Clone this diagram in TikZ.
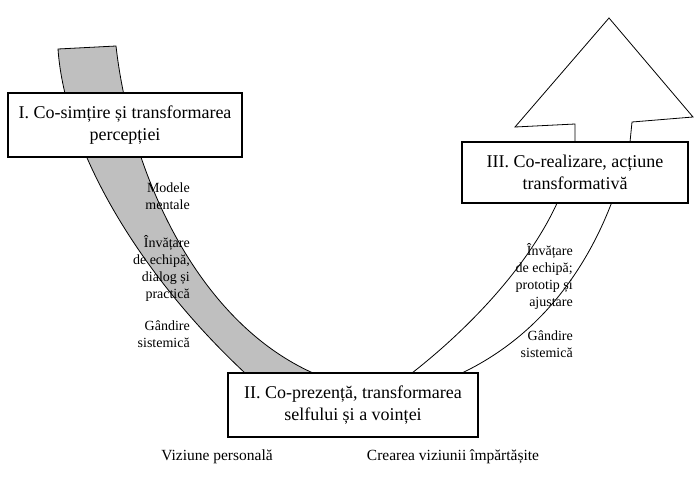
\documentclass[tikz,border=0pt]{standalone}
\usepackage{fontspec}
\setmainfont{Liberation Serif}
\usetikzlibrary{positioning}
\begin{document}
\begin{tikzpicture}[x=1pt, y=-1pt,
    stage/.style={draw, line width=1.2pt, fill=white, align=center, inner sep=0pt, font=\fontsize{18}{22}\selectfont},
    note/.style={align=right, inner sep=0pt, font=\fontsize{14}{17}\selectfont}]
    \useasboundingbox (0,0) rectangle (694,477);
    % left band
    \draw[fill=gray!50, line width=0.8pt] (58,49) -- (116,46) .. controls (130,170) and (195,320) .. (313,373)
        -- (245,373) .. controls (140,275) and (65,150) .. (58,49) -- cycle;
    % right band and arrow head
    \draw[fill=white, line width=0.8pt] (412,373) .. controls (480,320) and (565,230) .. (575,142) -- (575,124)
        -- (515,127) -- (609,18) -- (693,117) -- (632,122) -- (630,142) .. controls (610,230) and (562,325) .. (462,373) -- cycle;
    \node[stage, minimum width=234, minimum height=64] (perceptie) at (125,125) {I. Co-simțire și transformarea\\percepției};
    \node[stage, minimum width=250, minimum height=64] (prezenta) at (353,405) {II. Co-prezență, transformarea\\selfului și a voinței};
    \node[stage, minimum width=226, minimum height=61] (realizare) at (575,172.5) {III. Co-realizare, acțiune\\transformativă};
    % left labels
    \node[note, anchor=east] (modele) at (190,196) {Modele\\mentale};
    \node[note, anchor=east] (dialog) at (190,268) {Învățare\\de echipă,\\dialog și\\practică};
    \node[note, anchor=east] (sistemic1) at (190,334) {Gândire\\sistemică};
    % right labels
    \node[note, anchor=east] (prototip) at (573,276) {Învățare\\de echipă;\\prototip și\\ajustare};
    \node[note, anchor=east] (sistemic2) at (573,344) {Gândire\\sistemică};
    % bottom labels
    \node[font=\fontsize{15.5}{18}\selectfont] (personala) at (217,457) {Viziune personală};
    \node[font=\fontsize{15.5}{18}\selectfont] (impartasita) at (453,457) {Crearea viziunii împărtășite};
\end{tikzpicture}
\end{document}
